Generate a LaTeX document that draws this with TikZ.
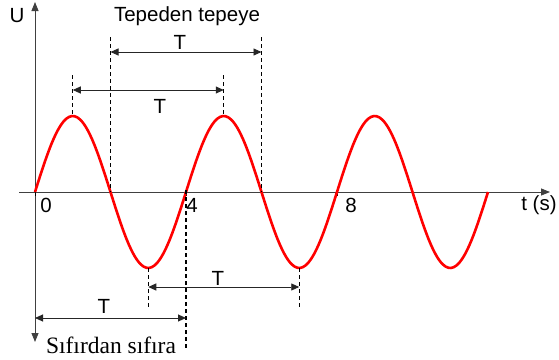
\documentclass[tikz,border=0pt]{standalone}
\usepackage{fontspec}
\setmainfont{Liberation Serif}
\setsansfont{Liberation Sans}
\usetikzlibrary{arrows.meta,positioning}

\begin{document}
\begin{tikzpicture}[x=1pt, y=-1pt,
  lbl/.style={font=\sffamily\fontsize{20.5}{20.5}\selectfont, inner sep=0pt},
  dimarrow/.style={{Triangle[length=8pt,width=7pt]}-{Triangle[length=8pt,width=7pt]}, line width=0.9pt, black!85},
  guide/.style={dash pattern=on 4pt off 3pt, line width=1.1pt},
  wave/.style={red, line width=2.6pt}]
\useasboundingbox (0,0) rectangle (559,359);

% Axes
\coordinate (xs) at (19,192);
\coordinate (xe) at (550,192);
\coordinate (yt) at (35,2);
\coordinate (yb) at (35,342);
\draw[line width=0.8pt, black!75, -{Triangle[length=9pt,width=7pt]}] (xs) -- (xe);
\draw[line width=0.8pt, black!75, {Triangle[length=9pt,width=7pt]}-{Triangle[length=9pt,width=7pt]}] (yb) -- (yt);
\node[lbl] (ulbl) at (17,16) {U};
\node[lbl] (tlbl) at (539,205) {t (s)};

% Axis ticks
\foreach \t/\lx in {0/46, 4/192, 8/351}
{
  \draw[line width=0.7pt] (35+37.75*\t, 188) -- (35+37.75*\t, 196);
  \node[lbl] (tick\t) at (\lx, 205) {\t};
}

% Sine wave, period 4 s
\draw[wave] plot[domain=0:12, samples=160, smooth] ({35+37.75*\x}, {192-76*sin(90*\x)});

% Key points of the wave (time in s)
\foreach \t/\y in {0/192, 1/116, 2/192, 3/268, 4/192, 5/116, 6/192, 7/268}
  \coordinate (w\t) at (35+37.75*\t, \y);

% Dashed guides
\foreach \t/\a/\b in {1/75/116, 5/75/116, 2/37/192, 6/37/192, 3/268/308, 7/268/308, 4/190/350}
{
  \coordinate (ga\t) at (35+37.75*\t, \a);
  \coordinate (gb\t) at (35+37.75*\t, \b);
  \draw[guide] (ga\t) -- (gb\t);
}

% Period arrows
\coordinate (a2) at (w2 |- 0,52);  \coordinate (a6) at (w6 |- 0,52);
\coordinate (a1) at (w1 |- 0,90);  \coordinate (a5) at (w5 |- 0,90);
\coordinate (a3) at (w3 |- 0,287); \coordinate (a7) at (w7 |- 0,287);
\coordinate (a0) at (w0 |- 0,318); \coordinate (a4) at (w4 |- 0,318);
\draw[dimarrow] (a2) -- (a6);
\draw[dimarrow] (a1) -- (a5);
\draw[dimarrow] (a3) -- (a7);
\draw[dimarrow] (a0) -- (a4);
\node[lbl] (T1) at (180,42) {T};
\node[lbl] (T2) at (160,106) {T};
\node[lbl] (T3) at (218,278) {T};
\node[lbl] (T4) at (104,306) {T};

% Titles
\node[lbl] (peak) at (187,16) {Tepeden tepeye};
\node[font=\fontsize{23.5}{23.5}\selectfont, inner sep=0pt] (zero) at (111,345) {Sıfırdan sıfıra};
\end{tikzpicture}
\end{document}
